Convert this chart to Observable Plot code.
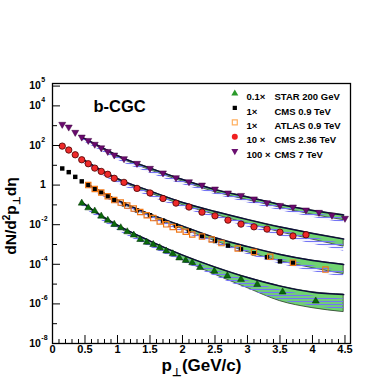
<!DOCTYPE html>
<html><head><meta charset="utf-8">
<script src="https://cdn.jsdelivr.net/npm/d3@7"></script>
<script src="https://cdn.jsdelivr.net/npm/@observablehq/plot@0.6"></script>
<style>body{margin:0;background:#fff}</style>
</head><body><div id="chart"></div>
<script>
// ---------- data ----------
// STAR 200 GeV (x0.1)
const starPt = [0.45,0.55,0.65,0.75,0.85,0.95,1.05,1.15,1.25,1.35,1.45,1.55,1.65,1.75,1.85,1.95,2.05,2.15,2.27,2.49,2.69,2.9,3.15,3.54,4.05];
const starVal = [0.123,0.071,0.049,0.027,0.0167,0.0104,0.0070,0.0044,0.0030,0.0018,0.0013,0.0010,0.00068,0.00047,0.00034,0.00021,0.000158,0.00012,6.9e-5,4.5e-5,2.6e-5,1.73e-5,9.6e-6,4.0e-6,1.4e-6];
// CMS 0.9 TeV (x1)
const cms09Pt = [0.15,0.25,0.35,0.45,0.55,0.65,0.75,0.85,0.95,1.1,1.3,1.5,1.7,1.9,2.1,2.3,2.5,2.7,2.9,3.1,3.3,3.5,3.7];
const cms09Val = [6.9,4.5,2.6,1.54,1.0,0.63,0.43,0.27,0.175,0.107,0.053,0.030,0.016,0.0089,0.005,0.0027,0.0015,0.00088,0.00057,0.00036,0.00023,0.00014,0.00012];
// ATLAS 0.9 TeV (x1)
const atlasPt = [0.55,0.65,0.75,0.85,0.95,1.05,1.15,1.25,1.35,1.45,1.55,1.65,1.75,1.85,1.95,2.05,2.15,2.3,2.45,2.6,2.85,3.1,3.35,3.7,4.2];
const atlasVal = [1.0,0.63,0.42,0.27,0.175,0.131,0.092,0.065,0.044,0.030,0.0216,0.0144,0.0104,0.0076,0.0058,0.0044,0.0032,0.0025,0.0018,0.00118,0.00063,0.00042,0.00024,0.000121,5.4e-5];
// CMS 2.36 TeV (x10)
const cms236Pt = [0.15,0.25,0.35,0.45,0.55,0.65,0.75,0.85,0.95,1.1,1.3,1.5,1.7,1.9,2.1,2.3,2.5,2.7,2.9,3.1,3.3,3.5,3.7,3.9];
const cms236Val = [93,59,34,19,12,7.2,4.9,3.5,2.2,1.37,0.68,0.40,0.21,0.123,0.078,0.043,0.028,0.017,0.0107,0.0078,0.006,0.0042,0.0027,0.0031];
// CMS 7 TeV (x100)
const cms7Pt = [0.15,0.25,0.35,0.45,0.55,0.65,0.75,0.85,0.95,1.1,1.3,1.5,1.7,1.9,2.1,2.3,2.5,2.7,2.9,3.1,3.3,3.5,3.7,3.9,4.1,4.3,4.5];
const cms7Val = [1170,850,460,265,180,115,76,50,33,21.5,12.5,7,4.1,2.36,1.47,1.0,0.63,0.40,0.30,0.20,0.128,0.094,0.078,0.055,0.042,0.030,0.021];

// b-CGC theory bands: upper curve, green band lower edge, hatched band top/bottom
const bandPt = [0.45,0.75,1.0,1.5,2.0,2.5,3.0,3.5,4.0,4.48];
const bandPt09 = [0.55,0.75,1.0,1.5,2.0,2.5,3.0,3.5,4.0,4.48];
const th7Line = [266,83,31,7.2,1.9,0.59,0.25,0.104,0.052,0.031];
const th7Green = [237,70,26,5.7,1.5,0.44,0.175,0.073,0.032,0.017];
const th7HatchTop = [245,76,28,6.3,1.65,0.5,0.2,0.085,0.04,0.022];
const th7HatchLow = [177,52,18.3,4.0,1.06,0.33,0.13,0.052,0.024,0.012];
const th236Line = [21.8,5.7,2.13,0.50,0.131,0.046,0.018,0.0076,0.0036,0.00187];
const th236Green = [19.4,4.8,1.79,0.39,0.098,0.032,0.0114,0.0042,0.00177,0.00078];
const th236HatchTop = [20.5,5.2,1.95,0.44,0.11,0.037,0.0135,0.0052,0.0023,0.0011];
const th236HatchLow = [14.5,3.4,1.19,0.26,0.069,0.0216,0.0076,0.00266,0.00105,0.00046];
const th09Line = [1.06,0.47,0.175,0.034,0.0085,0.0022,0.00078,0.00031,0.000154,9.7e-5];
const th09Green = [0.94,0.42,0.147,0.027,0.006,0.00149,0.00041,0.000145,6.4e-5,3.2e-5];
const th09HatchTop = [1.0,0.44,0.16,0.03,0.007,0.0017,0.0005,0.00019,8.5e-5,4.5e-5];
const th09HatchLow = [0.70,0.295,0.098,0.018,0.0042,0.00105,0.00031,0.000102,4.3e-5,2.26e-5];
const th200Line = [0.138,0.0288,0.0095,0.00149,0.00029,7.2e-5,2.13e-5,7.9e-6,3.9e-6,2.95e-6];
const th200Green = [0.123,0.0242,0.0076,0.00099,0.000163,3.0e-5,6.3e-6,1.38e-6,6.1e-7,3.85e-7];
const th200HatchTop = [0.13,0.027,0.009,0.00132,0.00023,5.4e-5,1.5e-5,5.0e-6,2.5e-6,1.75e-6];
const th200HatchLow = [0.087,0.017,0.0053,0.00074,0.000129,2.5e-5,5.6e-6,1.56e-6,7.7e-7,4.9e-7];

// axes / legend text
const xTickVals = [0,0.5,1,1.5,2,2.5,3,3.5,4,4.5];
const yTickVals = [1e5,1e4,1e2,1,1e-2,1e-4,1e-6,1e-8];
const yTickBase = ["10","10","10","1","10","10","10","10"];
const yTickExp = ["5","4","2","","-2","-4","-6","-8"];
const legendFactor = ["0.1\u00d7","1\u00d7","1\u00d7","10 \u00d7","100 \u00d7"];
const legendName = ["STAR 200 GeV","CMS 0.9 TeV","ATLAS 0.9 TeV","CMS 2.36 TeV","CMS 7 TeV"];
const panelLabel = "b-CGC";
const xTitle = "p\u22a5(GeV/c)";
const yTitle = "dN/d2p\u22a5d\u03b7";

// ---------- build ----------
const W = 382, H = 382, ML = 52, MR = 32, MT = 83, MB = 39;
const FW = W - ML - MR, FH = H - MT - MB;
const FONT = "'Liberation Sans', Arial, Helvetica, sans-serif";
const pts = (p, v) => p.map((x, i) => ({x, y: v[i]}));
const band = (p, l, g, ht, hl) => p.map((x, i) => ({x, line: l[i], green: g[i], ht: ht[i], hl: hl[i]}));
const bands = [
  band(bandPt, th7Line, th7Green, th7HatchTop, th7HatchLow),
  band(bandPt, th236Line, th236Green, th236HatchTop, th236HatchLow),
  band(bandPt09, th09Line, th09Green, th09HatchTop, th09HatchLow),
  band(bandPt, th200Line, th200Green, th200HatchTop, th200HatchLow)
];
const curve = "monotone-x";
const bandMarks = bands.flatMap(t => [
  Plot.areaY(t, {x: "x", y1: "green", y2: "line", fill: "#70d470", stroke: "#2c3a2c", strokeWidth: 0.8, curve}),
  Plot.areaY(t, {x: "x", y1: "hl", y2: "ht", fill: "url(#hatch)", curve}),
  Plot.lineY(t, {x: "x", y: "line", stroke: "#0c0c3a", strokeWidth: 1.5, curve})
]);

const xMinor = d3.range(0, 46).map(i => i / 10).filter(v => Math.abs(v * 2 - Math.round(v * 2)) > 1e-6);
const yDecades = d3.range(-8, 6).map(e => Math.pow(10, e));

const legSym = ["triangle","square","square","circle","triangle"];
const legRot = [0,0,0,0,180];
const legFill = ["#2a9a2a","#000","none","#f02020","#6a1070"];
const legStroke = ["none","none","#ffb060","none","none"];
const legR = [2.6,2.4,2.8,3.0,2.6];
const legendMarks = legendName.flatMap((name, i) => [
  Plot.dot([0], {frameAnchor: "top-left", dx: 182.3, dy: 10 + 14.4 * i, symbol: legSym[i], rotate: legRot[i], r: legR[i], fill: legFill[i], stroke: legStroke[i], strokeWidth: 1.2}),
  Plot.text([legendFactor[i]], {frameAnchor: "top-left", dx: 194, dy: 10 + 14.4 * i, text: d => d, textAnchor: "start", fontSize: 9.5, fontWeight: "bold"}),
  Plot.text([name], {frameAnchor: "top-left", dx: 222, dy: 10 + 14.4 * i, text: d => d, textAnchor: "start", fontSize: 9.5, fontWeight: "bold"})
]);

const svg = Plot.plot({
  width: W, height: H, marginLeft: ML, marginRight: MR, marginTop: MT, marginBottom: MB,
  x: {domain: [0, 4.585], axis: null},
  y: {type: "log", domain: [1e-8, 1.35e5], axis: null},
  style: {fontFamily: FONT, fontWeight: "bold", background: "#fff", overflow: "visible"},
  marks: [
    ...bandMarks,
    Plot.dot(pts(starPt, starVal), {x: "x", y: "y", symbol: "triangle", r: 2.6, fill: "#0b6a0b", stroke: "#053305", strokeWidth: 0.5}),
    Plot.dot(pts(cms09Pt, cms09Val), {x: "x", y: "y", symbol: "square", r: 2.5, fill: "#000"}),
    Plot.dot(pts(atlasPt, atlasVal), {x: "x", y: "y", symbol: "square", r: 3.0, fill: "none", stroke: "#f07818", strokeWidth: 1.2}),
    Plot.dot(pts(cms236Pt, cms236Val), {x: "x", y: "y", symbol: "circle", r: 3.2, fill: "#ee2a2a", stroke: "#4a0000", strokeWidth: 0.8}),
    Plot.dot(pts(cms7Pt, cms7Val), {x: "x", y: "y", symbol: "triangle", rotate: 180, r: 2.6, fill: "#6a0a6e", stroke: "#3a003a", strokeWidth: 0.5}),
    // ticks (inward, ROOT style)
    Plot.ruleX(xTickVals, {x: d => d, insetTop: FH - 8, stroke: "#000", strokeWidth: 1}),
    Plot.ruleX(xMinor, {x: d => d, insetTop: FH - 4, stroke: "#000", strokeWidth: 1}),
    Plot.ruleY(yDecades.filter(v => yTickVals.includes(v)), {y: d => d, insetRight: FW - 8, stroke: "#000", strokeWidth: 1}),
    Plot.ruleY(yDecades.filter(v => !yTickVals.includes(v)), {y: d => d, insetRight: FW - 5, stroke: "#000", strokeWidth: 1}),
    Plot.frame({stroke: "#000", strokeWidth: 1.3}),
    // tick labels
    Plot.text(xTickVals, {x: d => d, frameAnchor: "bottom", dy: 9, text: d => String(d), fontSize: 11, fontWeight: "bold"}),
    Plot.text(yTickVals.map((v, i) => ({v, b: yTickBase[i]})), {y: "v", frameAnchor: "left", text: "b", textAnchor: "end", fontSize: 10.5, fontWeight: "bold"}),
    Plot.text(yTickVals.map((v, i) => ({v, e: yTickExp[i]})).filter(d => d.e), {y: "v", frameAnchor: "left", dx: -11.2, dy: -6, text: "e", textAnchor: "start", fontSize: 7, fontWeight: "bold"}),
    // labels
    Plot.text([panelLabel], {frameAnchor: "top-left", dx: 41, dy: 17, text: d => d, textAnchor: "start", fontSize: 16.5, fontWeight: "bold"}),
    Plot.text([xTitle], {frameAnchor: "bottom", dy: 27, text: d => d, fontSize: 17, fontWeight: "bold"}),
    Plot.text([yTitle], {frameAnchor: "left", rotate: -90, text: d => d, textAnchor: "start", fontSize: 15.5, fontWeight: "bold"}),
    ...legendMarks
  ]
});

document.getElementById("chart").appendChild(svg);

// shift y tick bases: "10" ends at x=40, "1" ends at x=45
d3.select(svg).selectAll("text").filter(function () { return this.textContent === "10" || this.textContent === "1"; })
  .each(function () {
    const anchor = this.getAttribute("text-anchor") || (this.parentNode && this.parentNode.getAttribute("text-anchor"));
    if (anchor === "end") d3.select(this).attr("dx", this.textContent === "10" ? -11.7 : -6.7);
  });

// hatch pattern (ROOT-like fill style)
const defs = d3.select(svg).insert("defs", ":first-child");
const pat = defs.append("pattern").attr("id", "hatch").attr("patternUnits", "userSpaceOnUse").attr("width", 4).attr("height", 3);
pat.append("line").attr("x1", 0).attr("x2", 4).attr("y1", 1.5).attr("y2", 1.5).attr("stroke", "#7474f4").attr("stroke-width", 1.2);

// sub/superscripts in titles
d3.select(svg).selectAll("text").each(function () {
  const t = d3.select(this);
  if (this.textContent === yTitle) {
    t.text(null);
    t.append("tspan").text("dN/d");
    t.append("tspan").attr("font-size", 10).attr("dy", -6).text("2");
    t.append("tspan").attr("dy", 6).text("p");
    t.append("tspan").attr("font-size", 10).attr("dy", 4).text("\u22a5");
    t.append("tspan").attr("dy", -4).text("d\u03b7");
    const len = this.getComputedTextLength();
    if (this.parentNode) d3.select(this.parentNode).attr("transform", null);
    t.attr("x", null).attr("y", null).attr("text-anchor", "start")
     .attr("transform", `translate(16,${(216 + len / 2).toFixed(1)}) rotate(-90)`);
  } else if (this.textContent === xTitle) {
    t.text(null);
    t.append("tspan").text("p");
    t.append("tspan").attr("font-size", 11).attr("dy", 5).text("\u22a5");
    t.append("tspan").attr("dy", -5).text("(GeV/c)");
  }
});
</script></body></html>
